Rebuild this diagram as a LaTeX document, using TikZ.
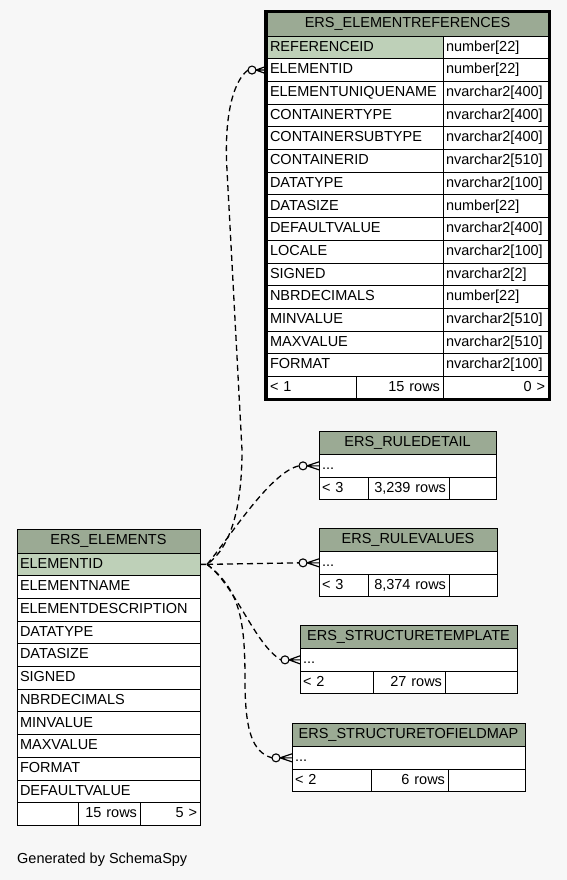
\documentclass[tikz,border=0pt]{standalone}
\usepackage{fontspec}
\setmainfont{Liberation Sans}
\usetikzlibrary{positioning, fit}
\definecolor{hdrGreen}{RGB}{155, 170, 148}
\definecolor{keyGreen}{RGB}{190, 208, 184}
\definecolor{pageBg}{RGB}{247, 247, 247}

\begin{document}
\begin{tikzpicture}[x=1pt, y=-1pt,
    cell/.style={draw=black, fill=white, line width=0.9pt, outer sep=0pt, inner xsep=3pt, inner ysep=0pt, minimum height=22.7pt, text height=10.5pt, text depth=3pt, font=\fontsize{14.5}{16}\selectfont},
    tblhead/.style={cell, fill=hdrGreen, align=center, text width=#1, minimum height=23.5pt},
    colcell/.style={cell, align=left, text width=#1},
    pkcol/.style={colcell=#1, fill=keyGreen},
    rowcount/.style={cell, align=right, text width=#1},
    odot/.style={circle, draw=black, fill=pageBg, line width=1.1pt, minimum size=8pt, inner sep=0pt, outer sep=0pt},
    rel/.style={draw=black, line width=1.3pt, dash pattern=on 6pt off 4pt},
    crow/.style={draw=black, line width=1.2pt}
  ]
    \path[use as bounding box, fill=pageBg] (0,0) rectangle (567,880);

    % ERS_ELEMENTREFERENCES
    \node[tblhead=275pt, anchor=north west] (erHdr) at (267,12.5) {ERS\_ELEMENTREFERENCES};
    \node[pkcol=170pt, anchor=north west] (erC1) at (267,36) {REFERENCEID};
    \node[colcell=99pt, right=0pt of erC1] (erT1) {number[22]};
    \foreach \nm/\ty [count=\i from 2] in {ELEMENTID/number[22], ELEMENTUNIQUENAME/nvarchar2[400],
        CONTAINERTYPE/nvarchar2[400], CONTAINERSUBTYPE/nvarchar2[400], CONTAINERID/nvarchar2[510],
        DATATYPE/nvarchar2[100], DATASIZE/number[22], DEFAULTVALUE/nvarchar2[400], LOCALE/nvarchar2[100],
        SIGNED/nvarchar2[2], NBRDECIMALS/number[22], MINVALUE/nvarchar2[510], MAXVALUE/nvarchar2[510],
        FORMAT/nvarchar2[100]} {
      \node[colcell=170pt, anchor=north west] (erC\i) at (267,{36+(\i-1)*22.7}) {\nm};
      \node[colcell=99pt, right=0pt of erC\i] (erT\i) {\ty};
    }
    \node[colcell=83pt, anchor=north west, minimum height=21.5pt] (erF1) at (erC15.south west) {< 1};
    \node[rowcount=81pt, right=0pt of erF1, minimum height=21.5pt] (erF2) {15 rows};
    \node[rowcount=99pt, right=0pt of erF2, minimum height=21.5pt] (erF3) {0 >};
    \node[fit=(erHdr)(erF3), draw=black, line width=2.4pt, inner sep=1.5pt] (erBox) {};

    % ERS_ELEMENTS
    \node[tblhead=177pt, anchor=north west, minimum height=24pt] (elHdr) at (17,529) {ERS\_ELEMENTS};
    \node[pkcol=177pt, below=0pt of elHdr] (elC1) {ELEMENTID};
    \foreach \nm [count=\i from 2] in {ELEMENTNAME, ELEMENTDESCRIPTION, DATATYPE, DATASIZE, SIGNED,
        NBRDECIMALS, MINVALUE, MAXVALUE, FORMAT, DEFAULTVALUE}
      \node[colcell=177pt, anchor=north west] (elC\i) at (17,{553+(\i-1)*22.7}) {\nm};
    \node[colcell=55pt, anchor=north west] (elF1) at (elC11.south west) {};
    \node[rowcount=56pt, right=0pt of elF1] (elF2) {15 rows};
    \node[rowcount=54pt, right=0pt of elF2] (elF3) {5 >};

    % ERS_RULEDETAIL
    \node[tblhead=171pt, anchor=north west] (rdHdr) at (319,431) {ERS\_RULEDETAIL};
    \node[colcell=171pt, below=0pt of rdHdr] (rdC) {...};
    \node[colcell=43pt, anchor=north west] (rdF1) at (rdC.south west) {< 3};
    \node[rowcount=75pt, right=0pt of rdF1] (rdF2) {3,239 rows};
    \node[colcell=41pt, right=0pt of rdF2] (rdF3) {};

    % ERS_RULEVALUES
    \node[tblhead=172pt, anchor=north west] (rvHdr) at (319,528) {ERS\_RULEVALUES};
    \node[colcell=172pt, below=0pt of rvHdr] (rvC) {...};
    \node[colcell=43pt, anchor=north west] (rvF1) at (rvC.south west) {< 3};
    \node[rowcount=75pt, right=0pt of rvF1] (rvF2) {8,374 rows};
    \node[colcell=42pt, right=0pt of rvF2] (rvF3) {};

    % ERS_STRUCTURETEMPLATE
    \node[tblhead=211pt, anchor=north west] (stHdr) at (300,625) {ERS\_STRUCTURETEMPLATE};
    \node[colcell=211pt, below=0pt of stHdr] (stC) {...};
    \node[colcell=67pt, anchor=north west] (stF1) at (stC.south west) {< 2};
    \node[rowcount=66pt, right=0pt of stF1] (stF2) {27 rows};
    \node[colcell=66pt, right=0pt of stF2] (stF3) {};

    % ERS_STRUCTURETOFIELDMAP
    \node[tblhead=227pt, anchor=north west] (sfHdr) at (292,723) {ERS\_STRUCTURETOFIELDMAP};
    \node[colcell=227pt, below=0pt of sfHdr] (sfC) {...};
    \node[colcell=73pt, anchor=north west] (sfF1) at (sfC.south west) {< 2};
    \node[rowcount=71pt, right=0pt of sfF1] (sfF2) {6 rows};
    \node[colcell=71pt, right=0pt of sfF2] (sfF3) {};

    % relationship ends
    \coordinate[right=7pt of elC1] (src);
    \node[odot, left=11pt of erC2] (erO) {};
    \node[odot, left=12pt of rdC] (rdO) {};
    \node[odot, left=12pt of rvC] (rvO) {};
    \node[odot, left=11pt of stC] (stO) {};
    \node[odot, left=12pt of sfC] (sfO) {};

    \draw[rel] (elC1.east) -- (src) .. controls (230,548) and (242,510) .. (242,450) -- (227,170) .. controls (224,120) and (232,82) .. (erO.west);
    \draw[rel] (src) .. controls (228,540) and (270,472) .. (rdO.west);
    \draw[rel] (src) -- (rvO.west);
    \draw[rel] (src) .. controls (235,585) and (255,645) .. (stO.west);
    \draw[rel] (src) .. controls (240,590) and (245,620) .. (245,680) .. controls (245,730) and (252,752) .. (sfO.west);
    \foreach \o/\c in {erO/erC2, rdO/rdC, rvO/rvC, stO/stC, sfO/sfC}
      \draw[crow] (\o.east) -- ([yshift=4pt]\c.west) (\o.east) -- (\c.west) (\o.east) -- ([yshift=-4pt]\c.west);

    \node[anchor=west, inner sep=0pt, font=\fontsize{14.5}{16}\selectfont] (gen) at (17,860) {Generated by SchemaSpy};
\end{tikzpicture}
\end{document}
